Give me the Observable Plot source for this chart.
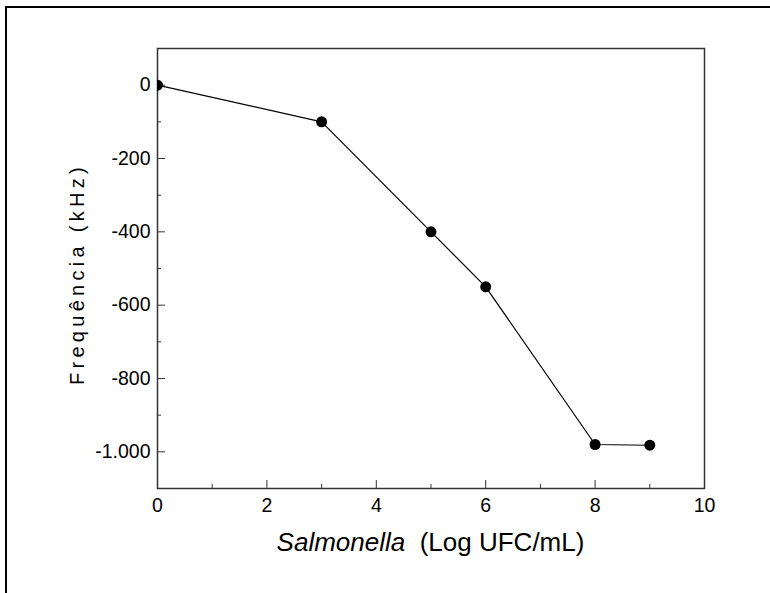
<!DOCTYPE html>
<html><head><meta charset="utf-8">
<script src="https://cdn.jsdelivr.net/npm/d3@7"></script>
<script src="https://cdn.jsdelivr.net/npm/@observablehq/plot@0.6"></script>
<style>
body{margin:0;background:#fff;}
#wrap{position:relative;width:770px;height:593px;overflow:hidden;background:#fff;}
#wrap svg{position:absolute;left:0;top:0;}
#wrap svg g{font-size:19.5px;}
#border{position:absolute;left:5px;top:6px;width:800px;height:700px;border-top:2.5px solid #000;border-left:2.5px solid #000;z-index:2;pointer-events:none;}
</style></head><body><div id="wrap"><div id="border"></div></div>
<script>
const logUFC = [0, 3, 5, 6, 8, 9];
const freqKHz = [0, -100, -400, -550, -980, -982];
const xTicks = [0, 2, 4, 6, 8, 10];
const xMinor = [1, 3, 5, 7, 9];
const yTicks = [0, -200, -400, -600, -800, -1000];
const yMinor = [-100, -300, -500, -700, -900];
const xTitleItalic = "Salmonella";
const xTitleRest = " (Log UFC/mL)";
const yTitle = "Frequência (kHz)";

const data = logUFC.map((x, i) => ({x, y: freqKHz[i]}));
const ptBR = d3.formatLocale({decimal: ",", thousands: ".", grouping: [3], currency: ["R$", ""], minus: "-"});
const fmt = ptBR.format(",");
const blank = () => "";

const W = 770, H = 593, mL = 157, mR = 66, mT = 48, mB = 105;
const plot = Plot.plot({
  width: W, height: H, marginLeft: mL, marginRight: mR, marginTop: mT, marginBottom: mB,
  style: {fontFamily: "'Liberation Sans', Arial, sans-serif", fontSize: "19.5px", color: "#000", background: "transparent"},
  x: {domain: [0, 10]},
  y: {domain: [-1100, 100]},
  marks: [
    Plot.frame({stroke: "#333", strokeWidth: 1.5}),
    Plot.axisX({ticks: xTicks, tickSize: 0, tickPadding: 10, label: null}),
    Plot.axisX({ticks: xTicks, tickSize: 8, dy: -8, tickFormat: blank, label: null, stroke: "#333"}),
    Plot.axisX({ticks: xMinor, tickSize: 4, dy: -4, tickFormat: blank, label: null, stroke: "#333"}),
    Plot.axisY({ticks: yTicks, tickSize: 0, tickPadding: 7, tickFormat: fmt, label: null}),
    Plot.axisY({ticks: yTicks, tickSize: 8, dx: 8, tickFormat: blank, label: null, stroke: "#333"}),
    Plot.axisY({ticks: yMinor, tickSize: 4, dx: 4, tickFormat: blank, label: null, stroke: "#333"}),
    Plot.line(data, {x: "x", y: "y", stroke: "#000", strokeWidth: 1.2}),
    Plot.dot(data, {x: "x", y: "y", r: 5.5, fill: "#000", stroke: null, clip: true})
  ]
});
document.getElementById("wrap").prepend(plot);

const svg = d3.select(plot);
const xt = svg.append("text")
  .attr("x", (mL + W - mR) / 2).attr("y", 551)
  .attr("text-anchor", "middle")
  .attr("fill", "#000")
  .style("font-family", "'Liberation Sans', Arial, sans-serif")
  .style("font-size", "26px");
xt.append("tspan").attr("font-style", "italic").text(xTitleItalic);
xt.append("tspan").text("\u00a0" + xTitleRest);

svg.append("text")
  .attr("transform", `translate(79,${(mT + H - mB) / 2 + 6}) rotate(-90)`)
  .attr("text-anchor", "middle")
  .attr("dominant-baseline", "middle")
  .attr("fill", "#000")
  .style("font-family", "'Liberation Sans', Arial, sans-serif")
  .style("font-size", "20px").style("letter-spacing", "4.3px")
  .text(yTitle);
</script></body></html>
